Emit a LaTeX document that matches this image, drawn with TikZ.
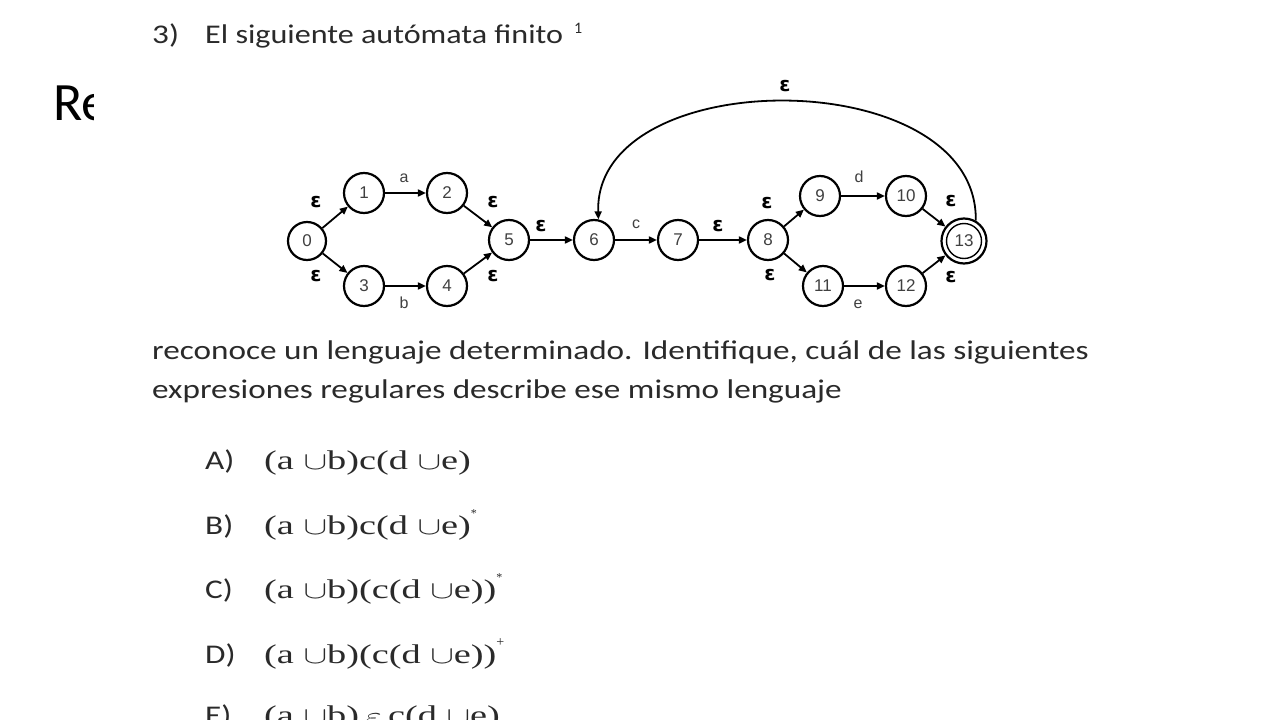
\documentclass[tikz,border=0pt]{standalone}
\usepackage{fontspec}
\setmainfont{Carlito}
\newfontfamily\serifrm{Liberation Serif}
\newfontfamily\arialf{Liberation Sans}
\newfontfamily\dejab{DejaVu Sans}[BoldFont={DejaVu Sans Bold}]
\usetikzlibrary{arrows.meta}
\definecolor{txt}{HTML}{2A2A2A}
\definecolor{lblc}{HTML}{404040}
\newcommand{\wide}[1]{\scalebox{1.23}[1]{#1}}
\newcommand{\widet}[1]{\scalebox{1.19}[1]{#1}}
\newcommand{\wider}[1]{\scalebox{1.42}[1]{#1}}
\newcommand{\eps}{{\dejab\bfseries ε}}
\tikzset{
  stt/.style={circle, draw=black, line width=2.2pt, minimum size=40pt, inner sep=0pt,
    font=\arialf\fontsize{17}{17}\selectfont, text=lblc},
  edg/.style={line width=1.8pt, -{Triangle[length=8pt,width=7pt]}},
  eps/.style={font=\fontsize{20}{20}\selectfont, inner sep=0pt},
  sym/.style={font=\arialf\fontsize{16}{16}\selectfont, text=lblc, inner sep=0pt},
  bodytxt/.style={anchor=base west, inner sep=0pt, text=txt, font=\fontsize{27}{27}\selectfont},
  opttxt/.style={anchor=base west, inner sep=0pt, text=txt, font=\serifrm\fontsize{27}{27}\selectfont},
}
\begin{document}
\begin{tikzpicture}[x=1pt,y=-1pt]
\useasboundingbox (0,0) rectangle (1280,720);
\clip (0,0) rectangle (1280,720);
\fill[white] (0,0) rectangle (1280,720);
% cropped slide title
\begin{scope}
\clip (0,0) rectangle (93,720);
\node[anchor=base west, inner sep=0pt, font=\fontsize{54}{54}\selectfont] (ttl) at (53,120) {Re};
\end{scope}
% question
\node[bodytxt] (q3) at (152,43) {\wide{3)}};
\node[bodytxt] (qh) at (205,43) {\widet{El siguiente autómata finito}};
\node[bodytxt, font=\fontsize{16}{16}\selectfont] (sup1) at (574,34) {1};
\node[bodytxt] (b1) at (152,359) {\wide{reconoce un lenguaje determinado. Identifique, cuál de las siguientes}};
\node[bodytxt] (b2) at (152,398) {\wide{expresiones regulares describe ese mismo lenguaje}};
% options
\node[bodytxt] (la) at (205,469) {\wide{A)}};
\node[opttxt] (oa) at (264,469) {\wider{(a $\cup$b)c(d $\cup$e)}};
\node[bodytxt] (lb) at (205,534) {\wide{B)}};
\node[opttxt] (ob) at (264,534) {\wider{(a $\cup$b)c(d $\cup$e)}\raisebox{0.6em}{\fontsize{12}{12}\selectfont *}};
\node[bodytxt] (lc) at (205,598) {\wide{C)}};
\node[opttxt] (oc) at (264,598) {\wider{(a $\cup$b)(c(d $\cup$e))}\raisebox{0.6em}{\fontsize{12}{12}\selectfont *}};
\node[bodytxt] (ld) at (205,663) {\wide{D)}};
\node[opttxt] (od) at (264,663) {\wider{(a $\cup$b)(c(d $\cup$e))}\raisebox{0.6em}{\fontsize{14}{14}\selectfont +}};
\node[bodytxt] (le) at (205,724) {\wide{E)}};
\node[opttxt] (oe) at (264,724) {\wider{(a $\cup$b)\,$\varepsilon$\,c(d $\cup$e)}};
% automaton
\node[stt, minimum size=38pt] (n0) at (307,241) {0};
\node[stt] (n1) at (364,193) {1};
\node[stt] (n2) at (447,193) {2};
\node[stt] (n3) at (364,286) {3};
\node[stt] (n4) at (447,286) {4};
\node[stt] (n5) at (509,240) {5};
\node[stt] (n6) at (594,240) {6};
\node[stt] (n7) at (678,240) {7};
\node[stt] (n8) at (768,240) {8};
\node[stt] (n9) at (820,196) {9};
\node[stt] (n10) at (906,196) {10};
\node[stt] (n11) at (823,286) {11};
\node[stt] (n12) at (906,286) {12};
\node[stt, minimum size=45pt] (n13) at (964,241) {13};
\draw[line width=1.4pt] (n13.center) circle (17.5);
\draw[edg] (n0) -- (n1);
\draw[edg] (n0) -- (n3);
\draw[edg] (n1) -- (n2);
\draw[edg] (n3) -- (n4);
\draw[edg] (n2) -- (n5);
\draw[edg] (n4) -- (n5);
\draw[edg] (n5) -- (n6);
\draw[edg] (n6) -- (n7);
\draw[edg] (n7) -- (n8);
\draw[edg] (n8) -- (n9);
\draw[edg] (n8) -- (n11);
\draw[edg] (n9) -- (n10);
\draw[edg] (n11) -- (n12);
\draw[edg] (n10) -- (n13);
\draw[edg] (n12) -- (n13);
\draw[edg] (n13.60) .. controls (978,62) and (594,62) .. (n6.78);
% labels
\node[eps] (e01) at (316,202) {\eps};
\node[eps] (e03) at (316,276) {\eps};
\node[sym] (la1) at (404,178) {a};
\node[sym] (lb1) at (404,303) {b};
\node[eps] (e25) at (493,202) {\eps};
\node[eps] (e45) at (493,276) {\eps};
\node[eps] (e56) at (541,226) {\eps};
\node[sym] (lc1) at (636,224) {c};
\node[eps] (e78) at (718,226) {\eps};
\node[eps] (e89) at (767,203) {\eps};
\node[eps] (e811) at (770,275) {\eps};
\node[sym] (ld1) at (859,177) {d};
\node[sym] (le1) at (858,304) {e};
\node[eps] (e1013) at (951,201) {\eps};
\node[eps] (e1213) at (951,277) {\eps};
\node[eps] (earc) at (785,86) {\eps};
\end{tikzpicture}
\end{document}
